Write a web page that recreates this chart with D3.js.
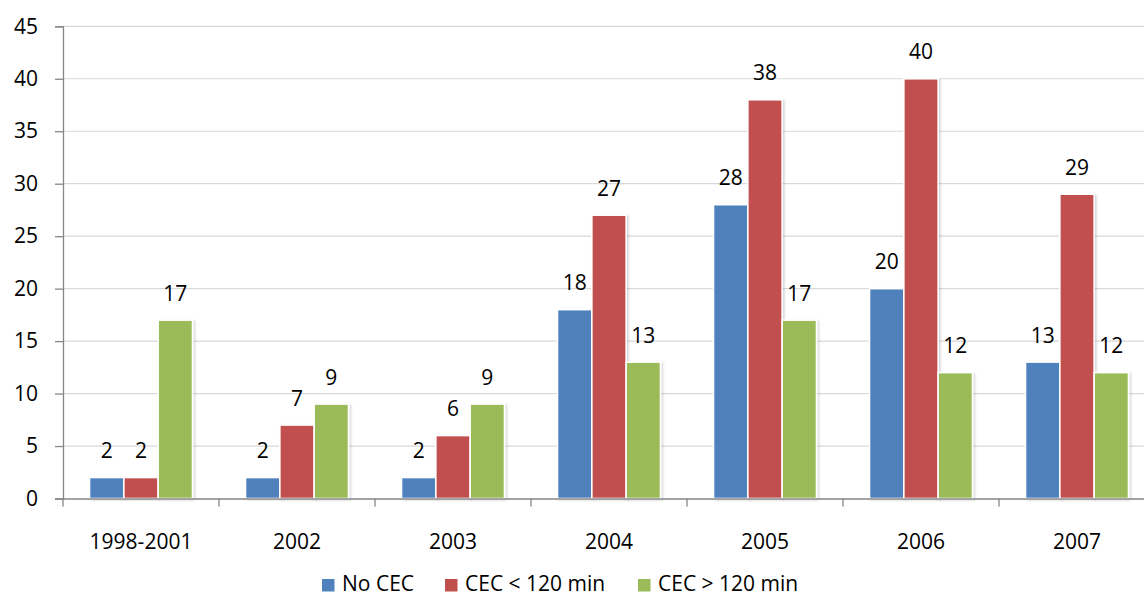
<!DOCTYPE html>
<html>
<head>
<meta charset="utf-8">
<script src="https://cdn.jsdelivr.net/npm/d3@7"></script>
<style>
  html, body { margin: 0; padding: 0; background: #fff; overflow: hidden; }
  svg { display: block; font-family: "Open Sans", "Noto Sans", sans-serif; }
</style>
</head>
<body>
<svg id="chart" width="1144" height="598"></svg>
<script>
// Chart data
const categories = ["1998-2001", "2002", "2003", "2004", "2005", "2006", "2007"];
const seriesNames = ["No CEC", "CEC < 120 min", "CEC > 120 min"];
const noCEC       = [2, 2, 2, 18, 28, 20, 13];
const cecUnder120 = [2, 7, 6, 27, 38, 40, 29];
const cecOver120  = [17, 9, 9, 13, 17, 12, 12];
const yTicks = [0, 5, 10, 15, 20, 25, 30, 35, 40, 45];
const colors = ["#4F81BD", "#C0504D", "#9BBB59"];

const seriesValues = [noCEC, cecUnder120, cecOver120];

const svg = d3.select("#chart");

// Plot area geometry
const plotLeft = 63, plotRight = 1155, plotTop = 26.3, plotBottom = 498.5;

const x0 = d3.scaleBand().domain(categories).range([plotLeft, plotRight]).padding(0);
const groupInset = 26.5;
const x1 = d3.scaleBand().domain(seriesNames)
  .range([groupInset, x0.bandwidth() - groupInset]).padding(0);
const y = d3.scaleLinear().domain([0, 45]).range([plotBottom, plotTop]);

// Soft shadow under the bars
const defs = svg.append("defs");
const f = defs.append("filter").attr("id", "shadow")
  .attr("x", "-20%").attr("y", "-5%").attr("width", "150%").attr("height", "115%");
f.append("feDropShadow").attr("dx", 1.5).attr("dy", 1).attr("stdDeviation", 1.2)
  .attr("flood-color", "#000").attr("flood-opacity", 0.18);

// Horizontal gridlines
svg.append("g")
  .selectAll("line")
  .data(yTicks.filter(t => t > 0))
  .join("line")
  .attr("x1", plotLeft).attr("x2", plotRight)
  .attr("y1", d => y(d)).attr("y2", d => y(d))
  .attr("stroke", "#d9d9d9").attr("stroke-width", 1.2);

// Y axis
const yAxis = svg.append("g")
  .attr("transform", `translate(${plotLeft},0)`)
  .call(d3.axisLeft(y).tickValues(yTicks).tickSize(8).tickPadding(17));
yAxis.select(".domain").attr("stroke", "#868686").attr("stroke-width", 1.3);
yAxis.selectAll(".tick line").attr("stroke", "#868686").attr("stroke-width", 1.3);
yAxis.selectAll(".tick text")
  .attr("font-size", 21).attr("fill", "#000")
  .attr("font-family", "'Open Sans', sans-serif");

// Bars
const groups = svg.append("g")
  .selectAll("g")
  .data(categories)
  .join("g")
  .attr("transform", d => `translate(${x0(d)},0)`);

groups.selectAll("rect")
  .data((c, i) => seriesNames.map((s, k) => ({ s, k, v: seriesValues[k][i] })))
  .join("rect")
  .attr("x", d => x1(d.s))
  .attr("width", x1.bandwidth())
  .attr("y", d => y(d.v))
  .attr("height", d => y(0) - y(d.v))
  .attr("fill", d => colors[d.k])
  .attr("stroke", "#fff")
  .attr("stroke-width", 1.6)
  .attr("filter", "url(#shadow)");

// Value labels
groups.selectAll("text")
  .data((c, i) => seriesNames.map((s, k) => ({ s, k, v: seriesValues[k][i] })))
  .join("text")
  .attr("x", d => x1(d.s) + x1.bandwidth() / 2)
  .attr("y", d => y(d.v) - 19.5)
  .attr("text-anchor", "middle")
  .attr("font-size", 21)
  .attr("fill", "#000")
  .text(d => d.v);

// X axis
const xAxis = svg.append("g")
  .attr("transform", `translate(0,${plotBottom})`)
  .call(d3.axisBottom(x0).tickSize(0).tickPadding(36));
xAxis.select(".domain").attr("stroke", "#868686").attr("stroke-width", 1.3);
xAxis.selectAll(".tick text").attr("font-size", 21).attr("fill", "#000")
  .attr("font-family", "'Open Sans', sans-serif");

// Category boundary tick marks
xAxis.append("g")
  .selectAll("line")
  .data(d3.range(categories.length + 1))
  .join("line")
  .attr("x1", i => plotLeft + i * x0.step())
  .attr("x2", i => plotLeft + i * x0.step())
  .attr("y1", 0).attr("y2", 8)
  .attr("stroke", "#868686").attr("stroke-width", 1.3);

// Legend
const legendX = [322, 445, 638];
const legend = svg.append("g");
const items = legend.selectAll("g")
  .data(seriesNames)
  .join("g")
  .attr("transform", (d, i) => `translate(${legendX[i]},0)`);
items.append("rect")
  .attr("x", 0).attr("y", 579).attr("width", 12.5).attr("height", 12.5)
  .attr("fill", (d, i) => colors[i]);
items.append("text")
  .attr("x", 20).attr("y", 591)
  .attr("font-size", 21).attr("fill", "#000")
  .text(d => d);
</script>
</body>
</html>
